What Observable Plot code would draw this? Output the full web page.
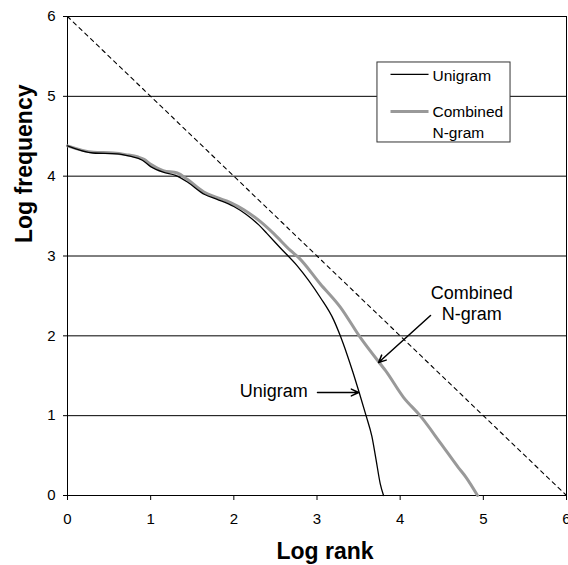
<!DOCTYPE html>
<html>
<head>
<meta charset="utf-8">
<script src="https://cdn.jsdelivr.net/npm/d3@7"></script>
<script src="https://cdn.jsdelivr.net/npm/@observablehq/plot@0.6"></script>
<style>
  html, body { margin: 0; padding: 0; background: #fff; }
  #chart svg { display: block; }
</style>
</head>
<body>
<div id="chart"></div>
<script>
// ---- data ----
const xTicks = [0, 1, 2, 3, 4, 5, 6];
const yTicks = [0, 1, 2, 3, 4, 5, 6];

const unigramX = [0, 0.31, 0.6, 0.75, 0.9, 1.0, 1.15, 1.3, 1.45, 1.65, 1.8, 2.0, 2.15, 2.3, 2.4, 2.56, 2.76, 3.04, 3.2, 3.28, 3.36, 3.43, 3.51, 3.59, 3.66, 3.71, 3.76, 3.8];
const unigramY = [4.38, 4.29, 4.28, 4.25, 4.2, 4.12, 4.05, 4.01, 3.92, 3.77, 3.71, 3.62, 3.52, 3.39, 3.28, 3.1, 2.88, 2.48, 2.2, 2.0, 1.77, 1.55, 1.28, 1.0, 0.74, 0.45, 0.15, 0];

const combinedX = [0, 0.31, 0.55, 0.7, 0.85, 0.92, 1.0, 1.15, 1.32, 1.44, 1.64, 1.8, 1.96, 2.12, 2.32, 2.48, 2.68, 2.78, 3.04, 3.28, 3.52, 3.76, 3.82, 4.04, 4.24, 4.49, 4.7, 4.79, 4.93];
const combinedY = [4.38, 4.3, 4.29, 4.27, 4.24, 4.21, 4.15, 4.07, 4.04, 3.96, 3.8, 3.73, 3.67, 3.58, 3.43, 3.28, 3.07, 2.98, 2.65, 2.36, 1.98, 1.65, 1.57, 1.23, 1.0, 0.65, 0.35, 0.23, 0];

const zipfX = [0, 6];
const zipfY = [6, 0];

const seriesNames = ["Unigram", "Combined\nN-gram"];

// ---- tables built from the arrays ----
const unigram = unigramX.map((x, i) => ({x, y: unigramY[i]}));
const combined = combinedX.map((x, i) => ({x, y: combinedY[i]}));
const zipf = zipfX.map((x, i) => ({x, y: zipfY[i]}));

const FONT = "Liberation Sans, Arial, Helvetica, sans-serif";

// legend placement (in data units)
const legendBox = [{x1: 3.727, x2: 5.327, y1: 4.422, y2: 5.424}];
const legendLines = [
  {x1: 3.884, x2: 4.341, y: 5.274, stroke: "#000", w: 1.3},
  {x1: 3.884, x2: 4.341, y: 4.81, stroke: "#999", w: 3}
];
const legendTexts = [
  {x: 4.389, y: 5.274, t: seriesNames[0]},
  {x: 4.389, y: 4.69, t: seriesNames[1]}
];

// annotations (in data units)
const annoText = [
  {x: 2.48, y: 1.315, t: "Unigram"},
  {x: 4.86, y: 2.41, t: seriesNames[1]}
];
const annoArrows = [
  {x1: 3.006, y1: 1.29, x2: 3.5, y2: 1.29},
  {x1: 4.365, y1: 2.255, x2: 3.74, y2: 1.666}
];

const chart = Plot.plot({
  width: 568,
  height: 565,
  marginLeft: 67,
  marginRight: 2,
  marginTop: 16,
  marginBottom: 70,
  style: {fontFamily: FONT, fontSize: "15px", color: "#000", background: "#fff"},
  x: {domain: [0, 6], ticks: xTicks, tickSize: 5, tickPadding: 13, label: null, tickFormat: d3.format("d")},
  y: {domain: [0, 6], ticks: yTicks, tickSize: 4, tickPadding: 8, label: null, tickFormat: d3.format("d")},
  marks: [
    Plot.ruleY(yTicks, {stroke: "#000", strokeWidth: 1}),
    Plot.ruleX([0, 6], {stroke: "#000", strokeWidth: 1}),
    Plot.line(zipf, {x: "x", y: "y", stroke: "#000", strokeWidth: 1.1, strokeDasharray: "4,4"}),
    Plot.line(combined, {x: "x", y: "y", stroke: "#999", strokeWidth: 3, curve: "monotone-x"}),
    Plot.line(unigram, {x: "x", y: "y", stroke: "#000", strokeWidth: 1.3, curve: "monotone-x"}),
    // legend
    Plot.rect(legendBox, {x1: "x1", x2: "x2", y1: "y1", y2: "y2", fill: "#fff", stroke: "#333", strokeWidth: 1}),
    Plot.link(legendLines, {x1: "x1", x2: "x2", y1: "y", y2: "y", stroke: d => d.stroke, strokeWidth: d => d.w}),
    Plot.text(legendTexts, {x: "x", y: "y", text: "t", textAnchor: "start", fontSize: 15.5, lineHeight: 1.3, lineAnchor: "middle", fill: "#000"}),
    // annotations
    Plot.text(annoText, {x: "x", y: "y", text: "t", textAnchor: "middle", fontSize: 18, lineHeight: 1.15, fill: "#000"}),
    Plot.arrow(annoArrows, {x1: "x1", y1: "y1", x2: "x2", y2: "y2", stroke: "#000", strokeWidth: 1.5, headLength: 8, headAngle: 50}),
    // axis titles
    Plot.text(["Log rank"], {frameAnchor: "bottom", lineAnchor: "middle", dx: 8, dy: 56, fontSize: 23, fontWeight: "bold", fill: "#000"}),
    Plot.text(["Log frequency"], {frameAnchor: "left", lineAnchor: "middle", rotate: -90, dx: -43, dy: -13, fontSize: 23, fontWeight: "bold", fill: "#000"})
  ]
});

document.getElementById("chart").appendChild(chart);
</script>
</body>
</html>
